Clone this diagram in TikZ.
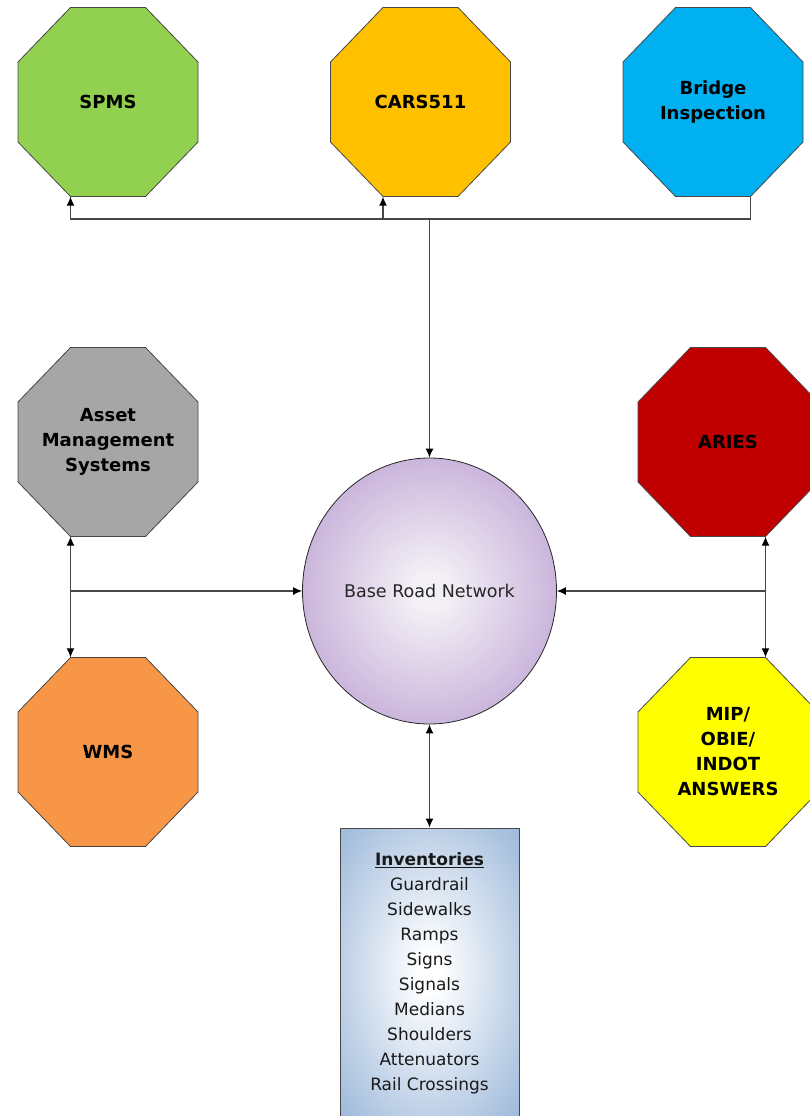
\documentclass[tikz,border=0pt]{standalone}
\usepackage{fontspec}
\setmainfont{DejaVu Sans}
\usetikzlibrary{arrows.meta,shapes.geometric}

\definecolor{spmsgreen}{HTML}{92D050}
\definecolor{carsorange}{HTML}{FFC000}
\definecolor{bridgeblue}{HTML}{00B0F0}
\definecolor{amsgray}{HTML}{A6A6A6}
\definecolor{ariesred}{HTML}{C00000}
\definecolor{wmsorange}{HTML}{F79646}
\definecolor{mipyellow}{HTML}{FFFF00}
\definecolor{octline}{HTML}{474747}
\definecolor{brnedge}{HTML}{AC88C8}
\definecolor{brncenter}{HTML}{F4F1F6}
\definecolor{invedge}{HTML}{95B3D7}

\pgfdeclareradialshading{brnshade}{\pgfpoint{0bp}{0bp}}{color(0bp)=(brncenter); color(3bp)=(brncenter); color(42bp)=(brnedge); color(50bp)=(brnedge)}
\pgfdeclareradialshading{invshade}{\pgfpoint{0bp}{0bp}}{color(0bp)=(white); color(3bp)=(white); color(38bp)=(invedge); color(50bp)=(invedge)}

% octagon outline round a centre point
\newcommand{\octagon}[2]{%
  \filldraw[fill=#1, draw=octline, line width=0.8pt] (#2) ++(-37.5,-94.5)
    -- ++(75,0) -- ++(52.5,54.5) -- ++(0,80) -- ++(-52.5,54.5)
    -- ++(-75,0) -- ++(-52.5,-54.5) -- ++(0,-80) -- cycle;}

\tikzset{
  octa/.style={rectangle, minimum width=180pt, minimum height=189pt,
    inner sep=0pt, align=center, font=\bfseries\fontsize{18}{25}\selectfont},
  link/.style={draw=octline, line width=1.2pt},
  arr/.style={link, -{Latex[length=9pt,width=8pt,color=black]}},
  darr/.style={link, {Latex[length=9pt,width=8pt,color=black]}-{Latex[length=9pt,width=8pt,color=black]}}
}

\begin{document}
\begin{tikzpicture}[x=1pt,y=-1pt]
  \useasboundingbox (0,0) rectangle (809,1116);

  \octagon{spmsgreen}{108,102}
  \octagon{carsorange}{420.5,102}
  \octagon{bridgeblue}{713,102}
  \octagon{amsgray}{108,442}
  \octagon{ariesred}{728,442}
  \octagon{wmsorange}{108,752}
  \octagon{mipyellow}{728,752}

  \begin{scope}[every node/.style={octa}]
    \node (spms)   at (108,102) {SPMS};
    \node (cars)   at (420.5,102) {CARS511};
    \node (bridge) at (713,102) {Bridge\\Inspection};
    \node (ams)    at (108,442) {Asset\\Management\\Systems};
    \node (aries)  at (728,442) {ARIES};
    \node (wms)    at (108,752) {WMS};
    \node (mip)    at (728,752) {MIP/\\OBIE/\\INDOT\\ANSWERS};
  \end{scope}

  \node[ellipse, draw=black!85, line width=0.8pt, shading=brnshade,
    minimum width=254pt, minimum height=266pt, inner sep=0pt,
    text=black!85, font=\fontsize{17.5}{20}\selectfont] (brn) at (429.5,591) {Base Road Network};

  \node[rectangle, draw=octline, line width=1pt, shading=invshade,
    minimum width=179pt, minimum height=290pt, inner sep=0pt, align=center,
    text=black!90, font=\fontsize{17}{25}\selectfont] (inv) at (429.5,973)
    {{\bfseries\underline{Inventories}}\\Guardrail\\Sidewalks\\Ramps\\Signs\\Signals\\Medians\\Shoulders\\Attenuators\\Rail Crossings};

  % top feed
  \coordinate (topjoin) at (brn.north |- 0,219);
  \draw[arr] ([xshift=37.5pt]bridge.south) |- ([xshift=-37.5pt]spms.south |- topjoin)
    -- ([xshift=-37.5pt]spms.south);
  \draw[arr] ([xshift=-37.5pt]cars.south |- topjoin) -- ([xshift=-37.5pt]cars.south);
  \draw[arr] (topjoin) -- (brn.north);

  % left and right feeds
  \draw[darr] ([xshift=-37.5pt]ams.south) -- ([xshift=-37.5pt]wms.north);
  \draw[arr] ([xshift=-37.5pt]ams.south |- brn.west) -- (brn.west);
  \draw[darr] ([xshift=37.5pt]aries.south) -- ([xshift=37.5pt]mip.north);
  \draw[arr] ([xshift=37.5pt]aries.south |- brn.east) -- (brn.east);

  % inventories
  \draw[darr] (brn.south) -- (inv.north);
\end{tikzpicture}
\end{document}
